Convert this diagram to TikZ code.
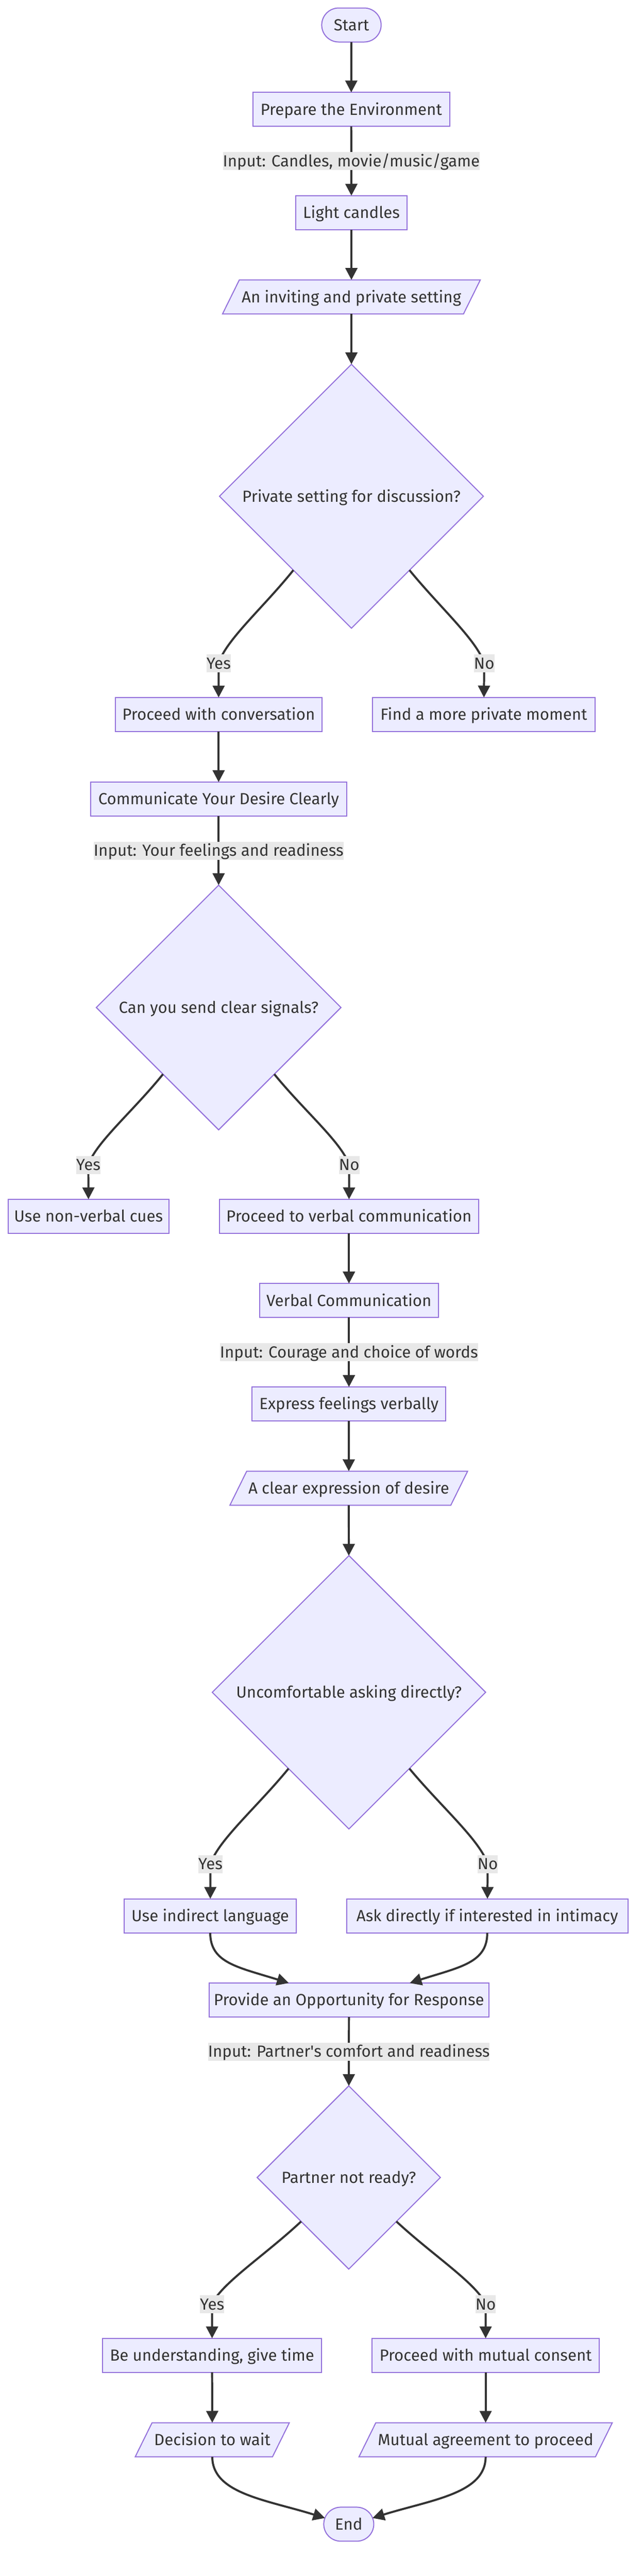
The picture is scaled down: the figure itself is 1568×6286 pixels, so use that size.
\documentclass[tikz,border=0pt]{standalone}
\usepackage{fontspec}
\setmainfont{Fira Sans}
\usetikzlibrary{shapes.geometric,arrows.meta,calc}
\pgfdeclarelayer{bg}
\pgfsetlayers{bg,main}
\definecolor{nfill}{HTML}{ECECFF}
\definecolor{nline}{HTML}{9370DB}
\definecolor{eline}{HTML}{333333}
\definecolor{lfill}{HTML}{E8E8E8}
\definecolor{tcol}{HTML}{333333}
\tikzset{
  base/.style={font=\fontsize{39.3}{47}\selectfont, text=tcol, text height=27pt, text depth=0pt, inner sep=0pt, outer sep=0pt},
  box/.style={base, rectangle, draw=nline, fill=nfill, line width=2.5pt, minimum height=83pt},
  term/.style={box, rounded corners=41.5pt},
  dec/.style={base, diamond, aspect=1, draw=nline, fill=nfill, line width=2.5pt},
  io/.style={base, rectangle, minimum height=83pt},
  iofill/.style={draw=nline, fill=nfill, line width=2.5pt},
  lbl/.style={base, fill=lfill, minimum height=44pt},
  edge/.style={draw=eline, line width=5pt, -{Triangle[length=29pt,width=29pt]}}
}
\begin{document}
\begin{tikzpicture}[x=1pt,y=-1pt]
\begin{pgfonlayer}{bg}
\fill[white] (0,0) rectangle (1568,6286);
\end{pgfonlayer}
\useasboundingbox (0,0) rectangle (1568,6286);

% nodes
\node[term, minimum width=145pt] (start) at (857.5,61) {Start};
\node[box, minimum width=480pt] (prep) at (857,267) {Prepare the Environment};
\node[box, minimum width=271pt] (light) at (857.5,519) {Light candles};
\node[io, minimum width=629pt] (io1) at (857.5,724.5) {An inviting and private setting};
\node[dec, minimum width=644pt, minimum height=644pt] (d1) at (857.5,1211) {Private setting for discussion?};
\node[box, minimum width=505pt] (pconv) at (533.5,1743.5) {Proceed with conversation};
\node[box, minimum width=543pt] (find) at (1180.5,1743.5) {Find a more private moment};
\node[box, minimum width=625pt] (comm) at (533.5,1950) {Communicate Your Desire Clearly};
\node[dec, minimum width=597pt, minimum height=597pt] (d2) at (533.5,2458.5) {Can you send clear signals?};
\node[box, minimum width=392pt] (nonv) at (216,2968) {Use non-verbal cues};
\node[box, minimum width=633pt] (pverb) at (851.5,2968) {Proceed to verbal communication};
\node[box, minimum width=437pt] (verb) at (851.5,3173.5) {Verbal Communication};
\node[box, minimum width=473pt] (expr) at (851.5,3426) {Express feelings verbally};
\node[io, minimum width=580pt] (io2) at (851,3631.5) {A clear expression of desire};
\node[dec, minimum width=667pt, minimum height=667pt] (d3) at (851.5,4129.5) {Uncomfortable asking directly?};
\node[box, minimum width=420pt] (indir) at (513,4675) {Use indirect language};
\node[box, minimum width=686pt] (ask) at (1189,4675) {Ask directly if interested in intimacy};
\node[box, minimum width=683pt] (prov) at (851.5,4880.5) {Provide an Opportunity for Response};
\node[dec, minimum width=447pt, minimum height=447pt] (d4) at (851,5313.5) {Partner not ready?};
\node[box, minimum width=535pt] (under) at (517.5,5747.5) {Be understanding, give time};
\node[box, minimum width=554pt] (mutual) at (1185,5747.5) {Proceed with mutual consent};
\node[io, minimum width=376pt] (io3) at (518,5953.5) {Decision to wait};
\node[io, minimum width=618pt] (io4) at (1185,5953.5) {Mutual agreement to proceed};
\node[term, minimum width=122pt] (endn) at (851,6159.5) {End};

% parallelogram outlines
\begin{pgfonlayer}{bg}
\foreach \n in {io1,io2,io3,io4}{
  \path[iofill] (\n.south west) -- ($(\n.south east)+(-41,0)$) -- (\n.north east) -- ($(\n.north west)+(41,0)$) -- cycle;
}
\end{pgfonlayer}

% label positions on branch edges
\coordinate (cy1) at (533.5,1618.5);
\coordinate (cn1) at (1181.5,1618.5);
\coordinate (cy2) at (215.5,2842.5);
\coordinate (cn2) at (852,2842.5);
\coordinate (cy3) at (513.5,4548.5);
\coordinate (cn3) at (1190,4548.5);
\coordinate (cy4) at (517.5,5622.5);
\coordinate (cn4) at (1185,5622.5);

% straight edges
\draw[edge] (start) -- (prep);
\draw[edge] (prep) -- node[lbl] (l1) {Input: Candles, movie/music/game} (light);
\draw[edge] (light) -- (io1);
\draw[edge] (io1) -- (d1);
\draw[edge] (pconv) -- (comm);
\draw[edge] (comm) -- node[lbl] (l2) {Input: Your feelings and readiness} (d2);
\draw[edge] (pverb) -- (verb);
\draw[edge] (verb) -- node[lbl] (l3) {Input: Courage and choice of words} (expr);
\draw[edge] (expr) -- (io2);
\draw[edge] (io2) -- (d3);
\draw[edge] (prov) -- node[lbl] (l4) {Input: Partner\textquotesingle s comfort and readiness} (d4);
\draw[edge] (under) -- (io3);
\draw[edge] (mutual) -- (io4);

% decision branches
\draw[edge] ($(d1.west)!0.56!(d1.south)$) .. controls (642.8,1482.4) and (551.3,1561.5) .. (cy1) -- (pconv);
\draw[edge] ($(d1.east)!0.56!(d1.south)$) .. controls (1073.6,1482.4) and (1163.1,1561.5) .. (cn1) -- (find);
\draw[edge] ($(d2.west)!0.545!(d2.south)$) .. controls (325,2711.4) and (233.8,2787.9) .. (cy2) -- (nonv);
\draw[edge] ($(d2.east)!0.545!(d2.south)$) .. controls (742.8,2711.4) and (833.8,2787.9) .. (cn2) -- (pverb);
\draw[edge] ($(d3.west)!0.558!(d3.south)$) .. controls (627.8,4409) and (532.6,4490.4) .. (cy3) -- (indir);
\draw[edge] ($(d3.east)!0.558!(d3.south)$) .. controls (1076.6,4409) and (1171.1,4490.4) .. (cn3) -- (ask);
\draw[edge] ($(d4.west)!0.48!(d4.south)$) .. controls (648,5502.2) and (539.3,5572.4) .. (cy4) -- (under);
\draw[edge] ($(d4.east)!0.48!(d4.south)$) .. controls (1054.8,5502.2) and (1163.3,5572.4) .. (cn4) -- (mutual);

% merging edges
\draw[edge] (indir.south) .. controls (513,4790) and (580,4800) .. ($(prov.north west)!0.285!(prov.north east)$);
\draw[edge] (ask.south) .. controls (1189,4790) and (1122,4800) .. ($(prov.north west)!0.717!(prov.north east)$);
\draw[edge] (io3.south) .. controls (518,6085) and (650,6100) .. ($(endn.west)+(3,-15)$);
\draw[edge] (io4.south) .. controls (1185,6085) and (1052,6100) .. ($(endn.east)+(-3,-15)$);

% branch labels
\node[lbl] (ly1) at (cy1) {Yes};
\node[lbl] (ln1) at (cn1) {No};
\node[lbl] (ly2) at (cy2) {Yes};
\node[lbl] (ln2) at (cn2) {No};
\node[lbl] (ly3) at (cy3) {Yes};
\node[lbl] (ln3) at (cn3) {No};
\node[lbl] (ly4) at (cy4) {Yes};
\node[lbl] (ln4) at (cn4) {No};
\end{tikzpicture}
\end{document}
